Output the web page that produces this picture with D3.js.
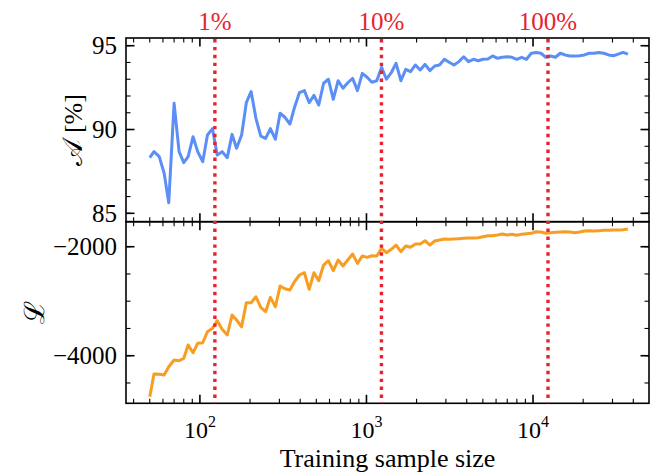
<!DOCTYPE html>
<html>
<head>
<meta charset="utf-8">
<script src="https://cdn.jsdelivr.net/npm/d3@7"></script>
<style>
  html, body { margin: 0; padding: 0; background: #fff; }
  svg { display: block; }
</style>
</head>
<body>
<svg id="chart" width="650" height="474"></svg>
<script>
// Training set sizes (log-spaced)
const sampleSizes = [50, 53, 57, 61, 65, 70, 75, 80, 85, 91, 97, 104, 111, 119, 127, 136, 146, 156, 166, 178,
  190, 203, 217, 232, 248, 265, 284, 303, 324, 347, 371, 396, 424, 453, 484, 517, 553, 591, 632, 676,
  723, 772, 826, 883, 944, 1009, 1078, 1153, 1233, 1318, 1409, 1506, 1610, 1721, 1840, 1967, 2103, 2248, 2403, 2569,
  2746, 2936, 3139, 3355, 3587, 3835, 4099, 4383, 4685, 5009, 5354, 5724, 6119, 6542, 6993, 7476, 7993, 8544, 9134, 9765,
  10439, 11160, 11931, 12755, 13635, 14577, 15583, 16659, 17810, 19039, 20354, 21759, 23261, 24868, 26585, 28420, 30383, 32480, 34723, 37120];

// Test accuracy in percent
const accuracy = [88.32, 88.68, 88.38, 87.39, 85.63, 91.56, 88.68, 88.02, 88.38, 89.57,
  88.68, 88.08, 89.67, 90.05, 88.48, 88.68, 88.32, 89.71, 88.88, 89.67,
  91.60, 92.26, 90.67, 89.61, 89.47, 90.05, 89.42, 90.97, 90.73, 90.33,
  91.36, 92.20, 92.32, 91.60, 92.04, 91.46, 92.76, 93.00, 91.80, 92.91,
  92.46, 92.79, 93.05, 92.32, 93.35, 93.12, 92.82, 92.91, 93.71, 93.00,
  93.39, 93.95, 92.91, 93.59, 93.45, 93.85, 93.55, 93.89, 93.51, 93.79,
  93.85, 94.19, 94.01, 93.85, 94.05, 94.34, 94.05, 94.19, 94.10, 94.19,
  94.21, 94.39, 94.25, 94.31, 94.34, 94.31, 94.19, 94.31, 94.19, 94.55,
  94.60, 94.55, 94.31, 94.39, 94.31, 94.55, 94.45, 94.39, 94.39, 94.40,
  94.45, 94.55, 94.55, 94.60, 94.55, 94.45, 94.40, 94.50, 94.60, 94.50];

// Objective value
const objective = [-4752, -4336, -4342, -4354, -4202, -4079, -4092, -4048, -3804, -3945,
  -3773, -3762, -3560, -3498, -3358, -3516, -3620, -3253, -3345, -3468,
  -3028, -3028, -2918, -3112, -3193, -2929, -3101, -2721, -2771, -2795,
  -2635, -2519, -2477, -2782, -2477, -2624, -2336, -2257, -2440, -2244,
  -2354, -2244, -2134, -2305, -2171, -2195, -2165, -2171, -2029, -2110,
  -2048, -1969, -2092, -1987, -2011, -1950, -1950, -1890, -1969, -1895,
  -1877, -1859, -1864, -1859, -1853, -1846, -1840, -1840, -1835, -1816,
  -1798, -1798, -1785, -1767, -1785, -1772, -1791, -1772, -1761, -1754,
  -1725, -1730, -1754, -1743, -1736, -1730, -1725, -1730, -1743, -1730,
  -1712, -1706, -1712, -1706, -1699, -1699, -1694, -1694, -1688, -1675];

// Fractions of the full training set
const fractionSizes = [123, 1230, 12300];
const fractionLabels = ["1%", "10%", "100%"];

// Axis ticks
const xMajorTicks = [100, 1000, 10000];
const xMajorExponents = ["2", "3", "4"];
const xMinorTicks = [40, 50, 60, 70, 80, 90, 200, 300, 400, 500, 600, 700, 800, 900,
  2000, 3000, 4000, 5000, 6000, 7000, 8000, 9000, 20000, 30000, 40000];
const accMajorTicks = [85, 90, 95];
const accMinorTicks = [85, 86, 87, 88, 89, 90, 91, 92, 93, 94, 95];
const objMajorTicks = [-2000, -4000];
const objMinorTicks = [-1500, -2000, -2500, -3000, -3500, -4000, -4500];

const svg = d3.select("#chart");
const serif = "Liberation Serif";
const left = 126, right = 649;
const topY0 = 38, midY = 221.7, botY1 = 403.3;

const x = d3.scaleLog().domain([36, 49700]).range([left, right]);
const yAcc = d3.scaleLinear().domain([84.5, 95.46]).range([midY, topY0]);
const yObj = d3.scaleLinear().domain([-4873, -1541]).range([botY1, midY]);

const blue = "#5b8ff6", orange = "#f79d22", red = "#e8222f";
const fontSize = 25;

function label(sel) {
  return sel.append("text").attr("font-family", serif).attr("fill", "#000");
}

function drawPanel(yScale, y0, y1, majorY, minorY, data, color) {
  const g = svg.append("g");
  // data line
  const line = d3.line().x((d, i) => x(sampleSizes[i])).y(d => yScale(d));
  g.append("path").datum(data)
    .attr("d", line).attr("fill", "none")
    .attr("stroke", color).attr("stroke-width", 3)
    .attr("stroke-linejoin", "round").attr("stroke-linecap", "butt");

  const tk = g.append("g").attr("stroke", "#000");
  // x ticks, top and bottom, pointing inward
  xMinorTicks.forEach(v => {
    const px = x(v);
    tk.append("line").attr("x1", px).attr("x2", px).attr("y1", y0).attr("y2", y0 + 4.5).attr("stroke-width", 1.1);
    tk.append("line").attr("x1", px).attr("x2", px).attr("y1", y1).attr("y2", y1 - 4.5).attr("stroke-width", 1.1);
  });
  xMajorTicks.forEach(v => {
    const px = x(v);
    tk.append("line").attr("x1", px).attr("x2", px).attr("y1", y0).attr("y2", y0 + 8.5).attr("stroke-width", 1.6);
    tk.append("line").attr("x1", px).attr("x2", px).attr("y1", y1).attr("y2", y1 - 8.5).attr("stroke-width", 1.6);
  });
  // y ticks, left and right, pointing inward
  minorY.forEach(v => {
    const py = yScale(v);
    if (py < y0 - 0.5 || py > y1 + 0.5) return;
    tk.append("line").attr("x1", left).attr("x2", left + 4.5).attr("y1", py).attr("y2", py).attr("stroke-width", 1.1);
    tk.append("line").attr("x1", right).attr("x2", right - 4.5).attr("y1", py).attr("y2", py).attr("stroke-width", 1.1);
  });
  majorY.forEach(v => {
    const py = yScale(v);
    tk.append("line").attr("x1", left).attr("x2", left + 8.5).attr("y1", py).attr("y2", py).attr("stroke-width", 1.6);
    tk.append("line").attr("x1", right).attr("x2", right - 8.5).attr("y1", py).attr("y2", py).attr("stroke-width", 1.6);
    label(g).attr("x", left - 9).attr("y", py).attr("dy", "0.34em")
      .attr("text-anchor", "end").attr("font-size", fontSize)
      .text(v < 0 ? "\u2212" + Math.abs(v) : v);
  });
  // frame
  g.append("rect").attr("x", left).attr("y", y0).attr("width", right - left).attr("height", y1 - y0)
    .attr("fill", "none").attr("stroke", "#000").attr("stroke-width", 1.6);
}

drawPanel(yAcc, topY0, midY, accMajorTicks, accMinorTicks, accuracy, blue);
drawPanel(yObj, midY, botY1, objMajorTicks, objMinorTicks, objective, orange);

// dotted markers for training-set fractions
fractionSizes.forEach((v, i) => {
  const px = x(v);
  svg.append("line").attr("x1", px).attr("x2", px).attr("y1", topY0 + 1).attr("y2", botY1)
    .attr("stroke", red).attr("stroke-width", 3.4).attr("stroke-dasharray", "3.4,4.5");
  label(svg).attr("x", px).attr("y", 30).attr("text-anchor", "middle")
    .attr("font-size", fontSize).attr("fill", red).text(fractionLabels[i]);
});

// x tick labels (powers of ten)
xMajorTicks.forEach((v, i) => {
  const t = label(svg).attr("x", x(v)).attr("y", 438).attr("text-anchor", "middle")
    .attr("font-size", 24);
  t.append("tspan").text("10");
  t.append("tspan").attr("dy", -11).attr("font-size", 16).text(xMajorExponents[i]);
});

// axis titles
label(svg).attr("x", (left + right) / 2).attr("y", 467).attr("text-anchor", "middle")
  .attr("font-size", 26).text("Training sample size");

const accTitle = label(svg).attr("transform", `translate(82, ${(topY0 + midY) / 2}) rotate(-90)`)
  .attr("text-anchor", "middle").attr("font-size", 26);
accTitle.append("tspan").attr("font-size", 28).text("\u{1D49C}");
accTitle.append("tspan").text("\u00A0[%]");

label(svg).attr("transform", `translate(44, ${(midY + botY1) / 2}) rotate(-90)`)
  .attr("text-anchor", "middle").attr("font-size", 28)
  .text("\u2112");
</script>
</body>
</html>
